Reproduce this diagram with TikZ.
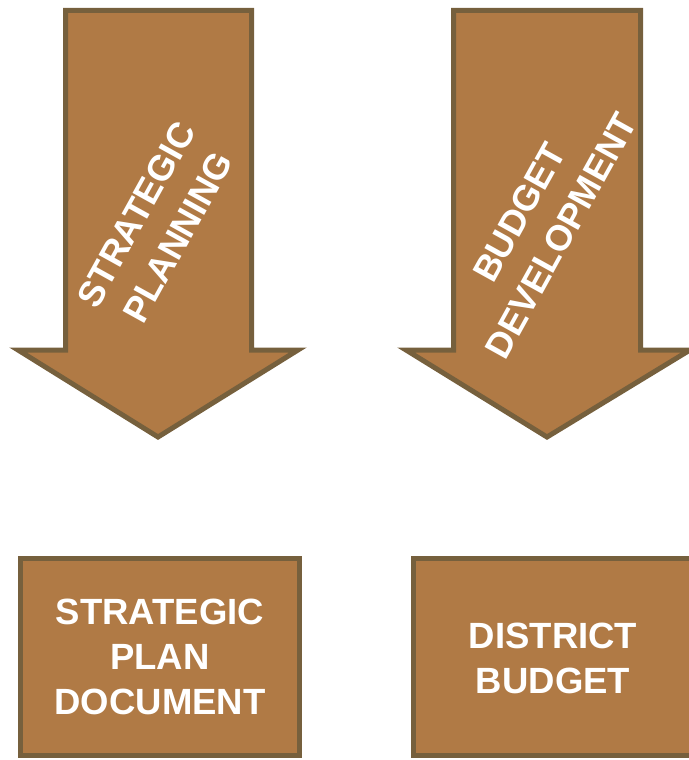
\documentclass[tikz,border=0pt]{standalone}
\usepackage{fontspec}
\setmainfont{Liberation Sans}
\definecolor{brownfill}{RGB}{176,122,69}
\definecolor{brownline}{RGB}{118,96,61}
\begin{document}
\begin{tikzpicture}[x=1pt,y=-1pt,
  panel/.style={fill=brownfill,draw=brownline,line width=5pt,line join=miter},
  whitetext/.style={text=white,font=\bfseries\fontsize{36.5}{45}\selectfont,align=center,inner sep=0pt},
  slanted/.style={whitetext,font=\bfseries\fontsize{36}{48}\selectfont,rotate=61}]
\useasboundingbox (0,0) rectangle (688,760);
% downward arrows
\draw[panel] (65.5,10.5) -- (251.5,10.5) -- (251.5,350) -- (298,350) -- (158,437)
  -- (18,350) -- (65.5,350) -- cycle;
\draw[panel] (453.5,10.5) -- (640.5,10.5) -- (640.5,350) -- (690,350) -- (547,437)
  -- (406,350) -- (453.5,350) -- cycle;
\node[slanted] (sp) at (157,226) {STRATEGIC\\PLANNING};
\node[slanted] (bd) at (540,224) {BUDGET\\DEVELOPMENT};
% result boxes
\draw[panel] (20.5,558.5) rectangle (299.5,755.5);
\draw[panel] (413.5,558.5) rectangle (695,755.5);
\node[whitetext] (plan) at (160,657) {STRATEGIC\\PLAN\\DOCUMENT};
\node[whitetext] (budget) at (553,658) {DISTRICT\\BUDGET};
\end{tikzpicture}
\end{document}
